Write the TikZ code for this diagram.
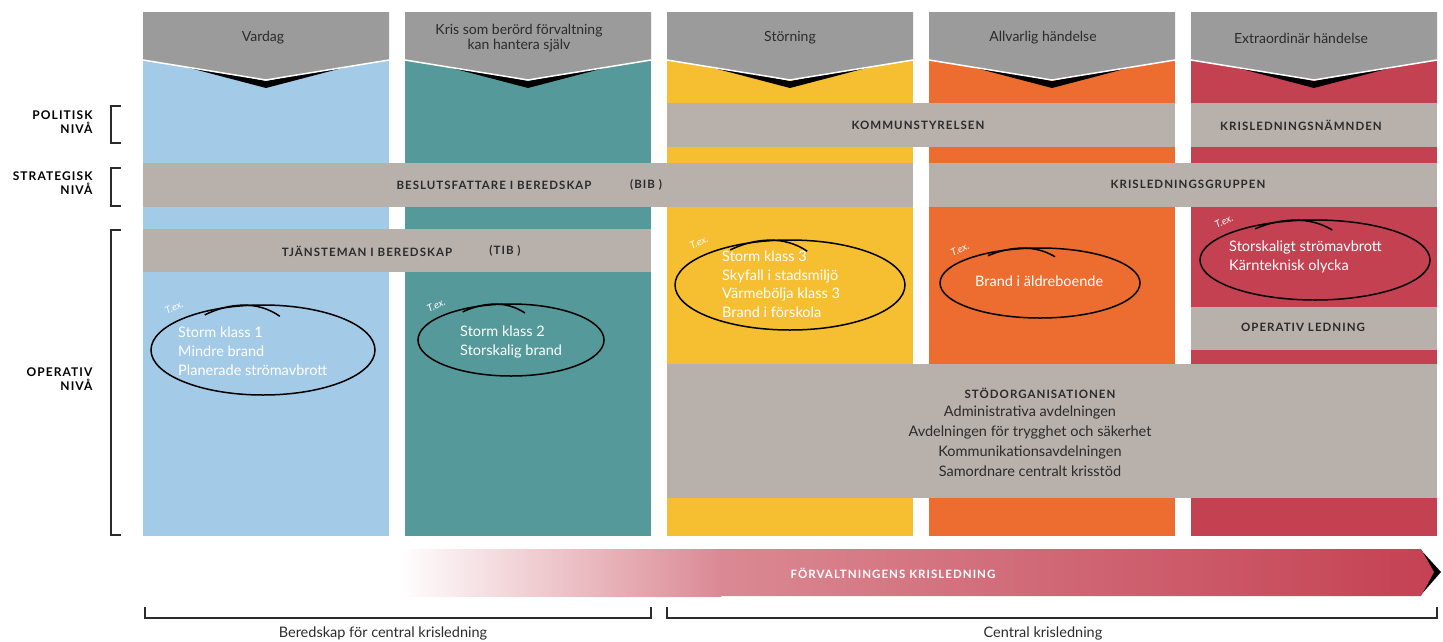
\documentclass[tikz,border=0pt]{standalone}
\usepackage{fontspec}
\setmainfont{Lato}
\newfontfamily\capsfont[LetterSpace=9]{Lato}
\usetikzlibrary{positioning}

\definecolor{vardagblue}{HTML}{A3CAE6}
\definecolor{kristeal}{HTML}{56999A}
\definecolor{storyellow}{HTML}{F6BF32}
\definecolor{allvorange}{HTML}{EC6D2F}
\definecolor{crisred}{HTML}{C44152}
\definecolor{headgray}{HTML}{9A9B9A}
\definecolor{bargray}{HTML}{B8B0AB}
\definecolor{inkgray}{HTML}{2B2B2B}

\tikzset{
  headtext/.style={text=inkgray, font=\fontsize{14}{14.5}\selectfont, align=center},
  bartext/.style={text=inkgray, font=\capsfont\bfseries\fontsize{11.5}{12}\selectfont},
  leveltext/.style={text=black, font=\capsfont\bfseries\fontsize{12}{14.5}\selectfont, align=right, anchor=east},
  exitems/.style={text=white, anchor=west, align=left, inner sep=0pt, font=\fontsize{14.5}{19}\selectfont},
  exmark/.style={text=white, font=\itshape\fontsize{10}{10}\selectfont, rotate=25, inner sep=0pt},
  exloop/.style={draw=black, line width=1.5pt},
  bracket/.style={draw=inkgray, line width=1.4pt},
}

\begin{document}
\begin{tikzpicture}[x=1pt, y=-1pt]
    \useasboundingbox (0,0) rectangle (1443,641);
    % columns with headers
    \foreach \xa/\col/\tx/\txt [count=\i] in {143/vardagblue/263/Vardag,
        405/kristeal/519/{Kris som berörd förvaltning\\kan hantera själv},
        667/storyellow/790/Störning, 929/allvorange/1043/Allvarlig händelse,
        1191/crisred/1301/Extraordinär händelse}{
      \fill[\col] (\xa,60) rectangle ++(246,476);
      \fill[black] (\xa+20,61) -- (\xa+123,88) -- (\xa+226,61) -- (\xa+123,81) -- cycle;
      \fill[headgray] (\xa,12) -- (\xa+246,12) -- (\xa+246,60) -- (\xa+123,80) -- (\xa,60) -- cycle;
      \draw[white, line width=1.5pt] (\xa,60) -- (\xa+123,80) -- (\xa+246,60);
      \node(h\i)[headtext] at (\tx,38) {\txt};
    }
    % level bars
    \fill[bargray] (667,103) rectangle (1175,147);
    \fill[bargray] (1191,103) rectangle (1437,147);
    \fill[bargray] (143,163) rectangle (913,207);
    \fill[bargray] (929,163) rectangle (1437,207);
    \fill[bargray] (143,229) rectangle (651,272);
    \fill[bargray] (1191,307) rectangle (1437,350);
    \fill[bargray] (667,364) rectangle (1437,498);
    \node(ks)[bartext] at (918,125) {KOMMUNSTYRELSEN};
    \node(kn)[bartext] at (1301,125) {KRISLEDNINGSNÄMNDEN};
    \node(bib)[bartext] at (494,185) {BESLUTSFATTARE I BEREDSKAP};
    \node(bibk)[bartext] at (646,185) {(BIB )};
    \node(kg)[bartext] at (1188,184) {KRISLEDNINGSGRUPPEN};
    \node(tib)[bartext] at (367,251) {TJÄNSTEMAN I BEREDSKAP};
    \node(tibk)[bartext] at (505,251) {(TIB )};
    \node(ol)[bartext] at (1303,327) {OPERATIV LEDNING};
    \node(so)[bartext] at (1040,393) {STÖDORGANISATIONEN};
    \node(sol)[headtext, anchor=north, font=\fontsize{14.5}{20}\selectfont] at (1030,402)
      {Administrativa avdelningen\\Avdelningen för trygghet och säkerhet\\Kommunikationsavdelningen\\Samordnare centralt krisstöd};
    % levels
    \node(pol)[leveltext] at (96,122) {POLITISK\\NIVÅ};
    \node(str)[leveltext] at (96,183) {STRATEGISK\\NIVÅ};
    \node(ope)[leveltext] at (96,379) {OPERATIV\\NIVÅ};
    \draw[bracket] (121,106) -- (111,106) -- (111,143) -- (121,143);
    \draw[bracket] (121,168) -- (111,168) -- (111,206) -- (121,206);
    \draw[bracket] (121,230) -- (111,230) -- (111,535) -- (121,535);
    % examples
    \node(ex1)[exitems] at (178,351) {Storm klass 1\\Mindre brand\\Planerade strömavbrott};
    \node(ex2)[exitems] at (460,342) {Storm klass 2\\Storskalig brand};
    \node(ex3)[exitems, font=\fontsize{14.5}{18.5}\selectfont] at (722,284) {Storm klass 3\\Skyfall i stadsmiljö\\Värmebölja klass 3\\Brand i förskola};
    \node(ex4)[exitems] at (975,281) {Brand i äldreboende};
    \node(ex5)[exitems] at (1229,257) {Storskaligt strömavbrott\\Kärnteknisk olycka};
    \foreach \ex/\ey/\rx/\ry in {263/350/112/45, 511/340/93/36, 790/285/115/45,
        1040/283/100/35, 1315/260/115/40}{
      \draw[exloop] (\ex,\ey) ellipse [x radius=\rx*1pt, y radius=\ry*1pt];
      \draw[exloop] (\ex-0.52*\rx,\ey-0.78*\ry) .. controls (\ex-0.3*\rx,\ey-1.05*\ry)
        and (\ex-0.05*\rx,\ey-1.1*\ry) .. (\ex+0.15*\rx,\ey-0.75*\ry);
      \node[exmark] at (\ex-\rx*0.74-6,\ey-\ry*0.86-4) {T.ex.};
    }
    % crisis arrow
    \fill[black] (1420,549) -- (1441,572) -- (1420,596) -- (1432,572) -- cycle;
    \shade[left color=white, right color=crisred!62!white] (398,549) rectangle (721,596);
    \shade[left color=crisred!62!white, right color=crisred]
      (720,549) -- (1421,549) -- (1434,572) -- (1421,596) -- (720,596) -- cycle;
    \node(fk)[bartext, text=white] at (893,573) {FÖRVALTNINGENS KRISLEDNING};
    % bottom ranges
    \draw[bracket] (145,607) -- (145,618) -- (651,618) -- (651,607);
    \draw[bracket] (667,607) -- (667,618) -- (1437,618) -- (1437,607);
    \node(ber)[headtext, font=\fontsize{14.5}{15}\selectfont] at (383,633) {Beredskap för central krisledning};
    \node(cen)[headtext, font=\fontsize{14.5}{15}\selectfont] at (1043,633) {Central krisledning};
\end{tikzpicture}
\end{document}
